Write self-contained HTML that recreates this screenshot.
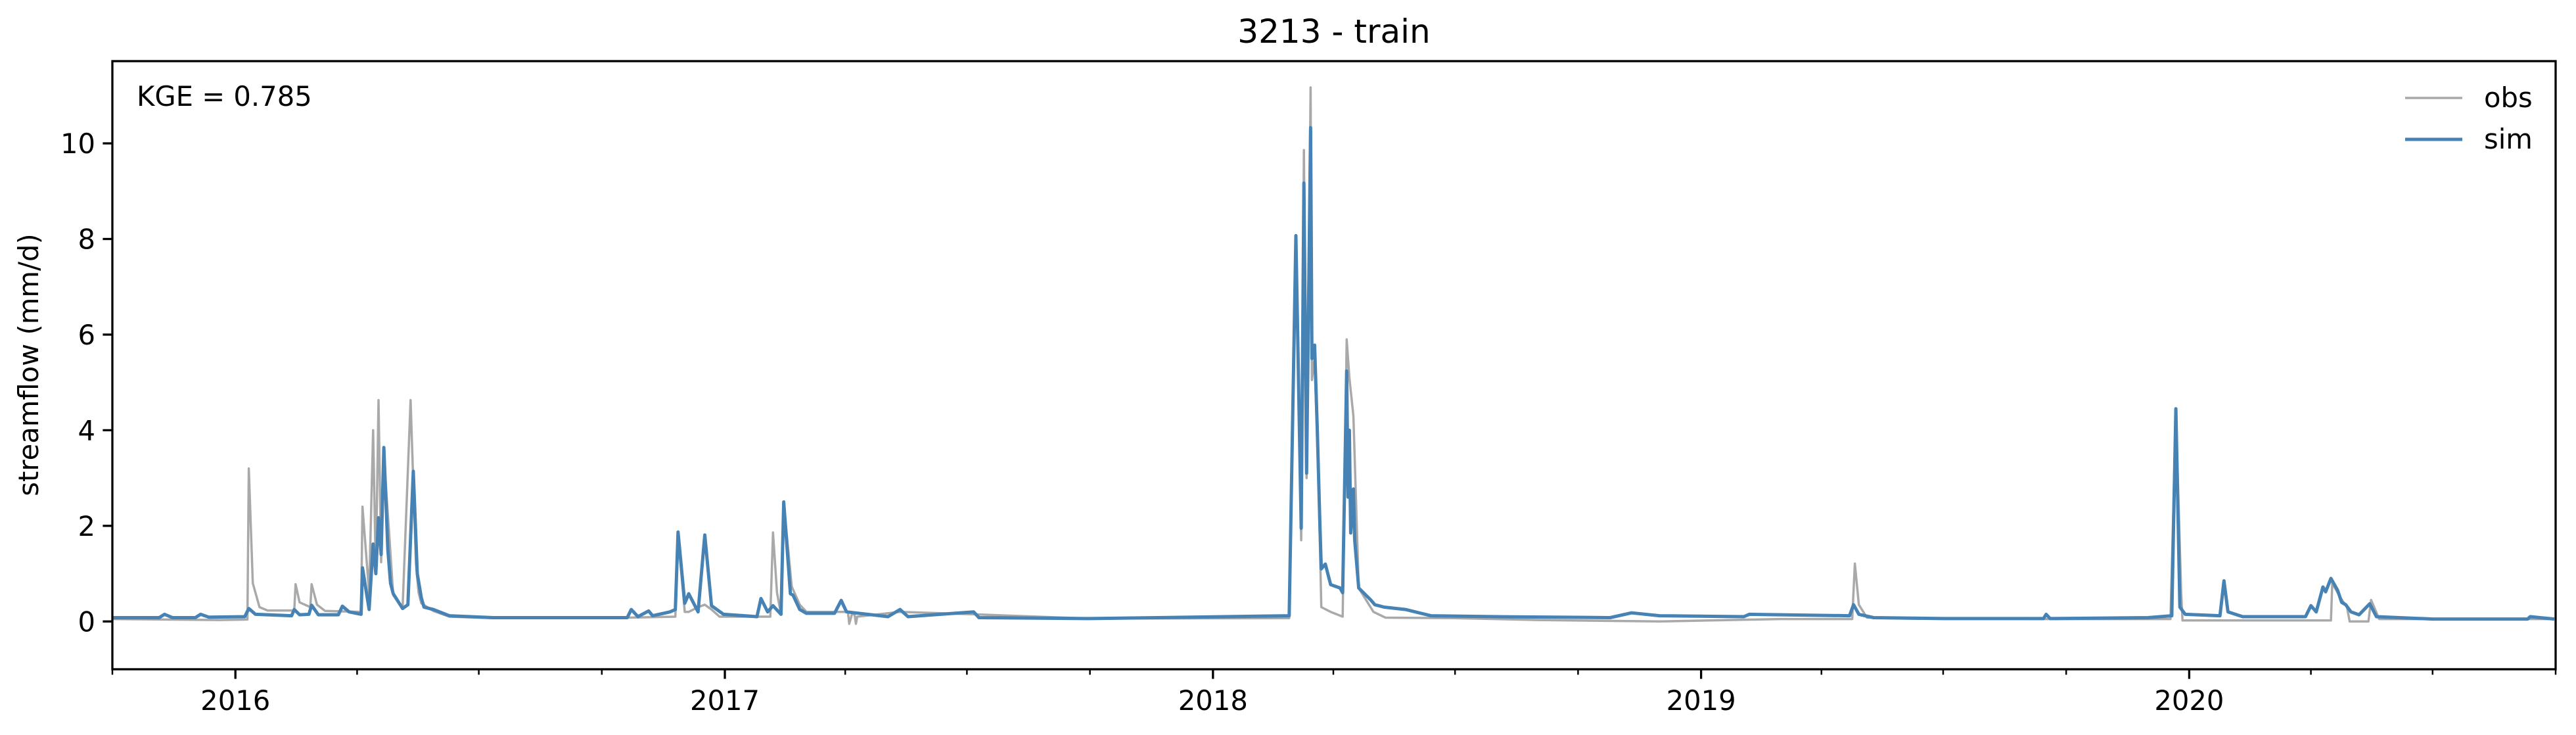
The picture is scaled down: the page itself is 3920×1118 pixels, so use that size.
<!DOCTYPE html>
<html><head><meta charset="utf-8"><style>
html,body{margin:0;padding:0;background:#fff;}
svg{display:block;font-family:"DejaVu Sans","Liberation Sans",sans-serif;}
</style></head><body>
<svg id="chart" width="3920" height="1118" viewBox="0 0 3920 1118" xmlns="http://www.w3.org/2000/svg">
<rect x="0" y="0" width="3920" height="1118" fill="#fff"/>
<text x="2030" y="65" font-size="50" text-anchor="middle" fill="#000">3213 - train</text>
<text transform="translate(58,555) rotate(-90)" font-size="41.7" text-anchor="middle" fill="#000">streamflow (mm/d)</text>
<g id="plot"></g>
<text x="208" y="161" font-size="41.7" fill="#000">KGE = 0.785</text>
<g>
<line x1="3660" y1="149" x2="3747" y2="149" stroke="#a9a9a9" stroke-width="3.5"/>
<text x="3780" y="163" font-size="41.7" fill="#000">obs</text>
<line x1="3660" y1="212" x2="3747" y2="212" stroke="#4682b4" stroke-width="5"/>
<text x="3780" y="226" font-size="41.7" fill="#000">sim</text>
</g>
</svg>
<script>
const obsDates = ["2015-10-01","2015-11-10","2015-12-20","2016-01-10","2016-01-11","2016-01-14","2016-01-19","2016-01-25","2016-02-14","2016-02-15","2016-02-18","2016-02-26","2016-02-27","2016-03-02","2016-03-08","2016-04-04","2016-04-05","2016-04-10","2016-04-13","2016-04-15","2016-04-17","2016-04-19","2016-04-21","2016-04-28","2016-05-05","2016-05-11","2016-05-13","2016-05-15","2016-05-17","2016-05-19","2016-05-28","2016-06-09","2016-07-12","2016-10-01","2016-11-25","2016-11-27","2016-12-02","2016-12-05","2016-12-12","2016-12-17","2016-12-22","2016-12-28","2017-02-04","2017-02-06","2017-02-09","2017-02-12","2017-02-14","2017-02-20","2017-02-26","2017-03-03","2017-04-03","2017-04-04","2017-04-06","2017-04-08","2017-04-09","2017-04-10","2017-05-12","2017-07-06","2017-10-01","2018-02-27","2018-03-04","2018-03-08","2018-03-10","2018-03-12","2018-03-15","2018-03-16","2018-03-18","2018-03-21","2018-03-23","2018-03-30","2018-04-08","2018-04-11","2018-04-13","2018-04-16","2018-04-20","2018-05-01","2018-05-10","2018-07-01","2018-09-01","2018-12-01","2019-03-01","2019-04-24","2019-04-26","2019-04-29","2019-05-05","2019-09-16","2019-12-18","2019-12-22","2019-12-26","2019-12-27","2020-04-16","2020-04-17","2020-04-23","2020-04-28","2020-04-30","2020-05-14","2020-05-16","2020-05-22","2020-09-30"];
const obsValues = [0.05,0.04,0.03,0.04,3.2,0.8,0.3,0.23,0.23,0.78,0.4,0.3,0.78,0.35,0.22,0.2,2.4,0.6,4.0,1.0,4.63,1.24,3.5,0.55,0.27,4.63,2.9,1.2,0.6,0.38,0.22,0.1,0.07,0.07,0.1,1.8,0.2,0.2,0.3,0.35,0.25,0.1,0.1,1.86,0.6,0.15,2.5,0.73,0.35,0.2,0.2,-0.05,0.15,0.15,-0.05,0.1,0.2,0.15,0.06,0.07,7.8,1.7,9.86,3.0,11.17,5.05,5.5,2.8,0.3,0.2,0.1,5.9,5.1,4.3,0.7,0.2,0.08,0.07,0.03,0.0,0.05,0.05,1.21,0.35,0.08,0.05,0.05,4.4,0.6,0.02,0.02,0.8,0.5,0.3,0.0,0.0,0.45,0.05,0.05];
const simDates = ["2015-10-01","2015-11-05","2015-11-09","2015-11-15","2015-12-02","2015-12-06","2015-12-12","2016-01-08","2016-01-11","2016-01-16","2016-02-12","2016-02-14","2016-02-18","2016-02-25","2016-02-27","2016-03-03","2016-03-18","2016-03-21","2016-03-26","2016-04-04","2016-04-05","2016-04-10","2016-04-13","2016-04-15","2016-04-17","2016-04-19","2016-04-21","2016-04-24","2016-04-26","2016-04-28","2016-05-05","2016-05-09","2016-05-13","2016-05-16","2016-05-19","2016-05-21","2016-05-28","2016-06-09","2016-07-12","2016-10-20","2016-10-23","2016-10-28","2016-11-05","2016-11-08","2016-11-21","2016-11-25","2016-11-27","2016-12-02","2016-12-05","2016-12-12","2016-12-17","2016-12-22","2016-12-31","2017-01-25","2017-01-28","2017-02-02","2017-02-06","2017-02-12","2017-02-14","2017-02-19","2017-02-21","2017-02-26","2017-03-03","2017-03-24","2017-03-29","2017-04-02","2017-05-03","2017-05-12","2017-05-18","2017-07-06","2017-07-10","2017-10-01","2018-02-27","2018-03-04","2018-03-08","2018-03-10","2018-03-12","2018-03-15","2018-03-16","2018-03-18","2018-03-20","2018-03-22","2018-03-23","2018-03-26","2018-03-30","2018-04-06","2018-04-08","2018-04-11","2018-04-12","2018-04-13","2018-04-14","2018-04-16","2018-04-17","2018-04-20","2018-04-29","2018-05-02","2018-05-09","2018-05-25","2018-06-13","2018-08-01","2018-10-25","2018-11-10","2018-12-01","2019-02-02","2019-02-06","2019-04-22","2019-04-25","2019-04-29","2019-05-10","2019-07-01","2019-09-14","2019-09-16","2019-09-19","2019-12-01","2019-12-19","2019-12-22","2019-12-25","2019-12-29","2020-01-24","2020-01-27","2020-01-30","2020-02-10","2020-03-28","2020-04-01","2020-04-05","2020-04-10","2020-04-12","2020-04-16","2020-04-21","2020-04-24","2020-04-27","2020-05-01","2020-05-07","2020-05-15","2020-05-20","2020-07-01","2020-09-10","2020-09-12","2020-09-30"];
const simValues = [0.08,0.08,0.15,0.08,0.08,0.15,0.09,0.1,0.27,0.15,0.12,0.25,0.14,0.15,0.34,0.14,0.14,0.32,0.2,0.15,1.12,0.25,1.62,1.0,2.17,1.4,3.64,1.5,0.8,0.58,0.27,0.35,3.14,1.0,0.5,0.3,0.25,0.12,0.08,0.08,0.25,0.1,0.22,0.12,0.2,0.25,1.87,0.38,0.58,0.2,1.81,0.33,0.15,0.1,0.48,0.2,0.33,0.15,2.5,0.58,0.55,0.25,0.17,0.17,0.44,0.2,0.1,0.25,0.1,0.2,0.08,0.06,0.12,8.07,1.95,9.17,3.1,10.33,5.5,5.78,4.0,2.0,1.1,1.2,0.77,0.7,0.6,5.24,2.6,4.0,1.85,2.77,1.7,0.7,0.45,0.35,0.3,0.25,0.12,0.1,0.08,0.18,0.12,0.1,0.15,0.12,0.35,0.15,0.08,0.06,0.06,0.15,0.06,0.08,0.12,4.45,0.3,0.15,0.12,0.85,0.2,0.1,0.1,0.33,0.2,0.72,0.62,0.9,0.65,0.4,0.35,0.2,0.14,0.37,0.1,0.05,0.05,0.1,0.05];
const yTicks = [0,2,4,6,8,10];
const xTickYears = ["2016","2017","2018","2019","2020"];

const L=171,R=3889,T=93,B=1018;
const t0=Date.parse("2015-10-01"), t1=Date.parse("2020-10-01");
const yMin=-1.0, yMax=11.72;
function xs(d){return L+(Date.parse(d)-t0)/(t1-t0)*(R-L);}
function ys(v){return B-(v-yMin)/(yMax-yMin)*(B-T);}
const NS="http://www.w3.org/2000/svg";
const plot=document.getElementById('plot');
function mk(tag,attrs,parent){const e=document.createElementNS(NS,tag);for(const k in attrs)e.setAttribute(k,attrs[k]);(parent||plot).appendChild(e);return e;}

function series(dates,vals,color,w){
  let d="";for(let i=0;i<dates.length;i++){d+=(i?"L":"M")+xs(dates[i]).toFixed(1)+","+ys(vals[i]).toFixed(1);}
  return mk('path',{d:d,fill:'none',stroke:color,'stroke-width':w,'stroke-linejoin':'round'});
}
const clip=mk('clipPath',{id:'clipA'});
mk('rect',{x:L,y:T,width:R-L,height:B-T},clip);
const g=mk('g',{'clip-path':'url(#clipA)'});
const po=series(obsDates,obsValues,'#a9a9a9',3.5);g.appendChild(po);


const ps=series(simDates,simValues,'#4682b4',5);g.appendChild(ps);



yTicks.forEach(v=>{
  const y=ys(v);
  const tk=mk('line',{x1:L-14.6,x2:L,y1:y,y2:y,stroke:'#000','stroke-width':3.3});
  
  
  const tx=mk('text',{x:L-26,y:y+15,'font-size':41.7,'text-anchor':'end',fill:'#000'});
  tx.textContent=String(v);
  
  
});
xTickYears.forEach(yr=>{
  const x=xs(yr+"-01-01");
  const tk=mk('line',{x1:x,x2:x,y1:B,y2:B+14.6,stroke:'#000','stroke-width':3.3});
  
  
  const tx=mk('text',{x:x,y:B+62,'font-size':41.7,'text-anchor':'middle',fill:'#000'});
  tx.textContent=yr;
  
  
});
for(let yr=2015;yr<=2020;yr++){["04","07","10"].forEach(m=>{
  const ds=yr+"-"+m+"-01";const x=xs(ds);
  if(x<L-1||x>R+1)return;
  const tk=mk('line',{x1:x,x2:x,y1:B,y2:B+8.3,stroke:'#000','stroke-width':2.5});
  
  
});}
const fr=mk('rect',{x:L,y:T,width:R-L,height:B-T,fill:'none',stroke:'#000','stroke-width':3.3});


</script>
</body></html>
